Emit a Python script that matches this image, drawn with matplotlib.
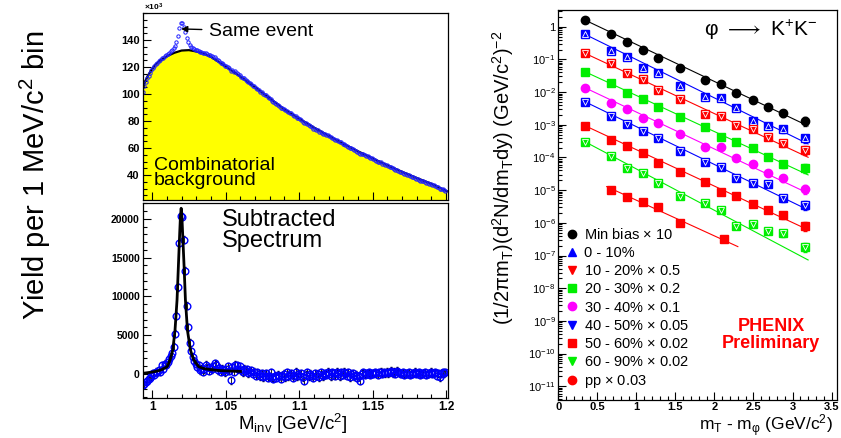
import numpy as np
import matplotlib
matplotlib.use("Agg")
import matplotlib.pyplot as plt
from matplotlib.ticker import MultipleLocator, LogLocator, NullFormatter
from matplotlib.lines import Line2D
from matplotlib import font_manager

plt.rcParams['font.family'] = ['Liberation Sans', 'DejaVu Sans']
plt.rcParams['mathtext.default'] = 'regular'

# ---- left panels: K+K- invariant mass, 1 MeV bins ----
minv = np.round(0.9935 + 0.001 * np.arange(207), 4)  # bin centres

# same event yield (x10^3)
same_k = [
    101.6, 105.7, 109.1, 111.5, 113.7, 115.6, 117.5,
    119.4, 120.7, 122.1, 123.0, 124.3, 125.2, 126.7, 127.0, 128.3, 128.9,
    129.8, 130.7, 131.6, 132.5, 133.8, 135.9, 138.5, 142.6, 148.6, 152.4,
    152.5, 149.6, 145.7, 141.2, 138.5, 136.4, 135.1, 134.2, 133.5, 132.9,
    132.3, 132.2, 131.3, 131.2, 130.5, 130.4, 130.5, 129.7, 128.7, 128.6,
    127.8, 127.5, 127.2, 126.3, 124.9, 124.5, 123.3, 123.0, 122.1, 121.1,
    120.7, 120.3, 119.0, 117.0, 117.9, 116.6, 116.7, 115.8, 114.5, 114.2,
    112.9, 111.8, 111.6, 110.5, 109.9, 108.6, 108.0, 107.5, 106.2, 105.7,
    104.4, 104.0, 102.9, 101.8, 101.4, 100.1, 99.5, 98.9, 97.5, 96.9,
    96.6, 95.1, 94.1, 93.7, 92.6, 92.1, 91.1, 90.0, 89.5, 88.9,
    87.8, 87.7, 86.5, 86.1, 85.6, 84.3, 84.0, 83.8, 82.5, 82.1,
    81.2, 80.8, 79.6, 78.3, 78.4, 78.0, 76.8, 76.3, 75.4, 74.4,
    74.3, 73.5, 73.1, 72.2, 72.2, 71.4, 70.6, 70.5, 69.7, 69.6,
    68.7, 67.8, 67.7, 67.0, 66.1, 66.0, 65.1, 64.2, 64.1, 63.2,
    63.0, 62.2, 61.3, 61.1, 59.9, 59.7, 59.2, 58.2, 57.8, 56.8,
    56.5, 55.4, 55.8, 55.5, 54.7, 54.4, 53.8, 53.5, 52.7, 52.4,
    51.7, 51.4, 50.7, 50.0, 49.7, 49.3, 48.4, 48.1, 47.4, 47.1,
    46.4, 46.0, 45.7, 44.9, 44.6, 43.9, 43.8, 43.1, 42.5, 41.9,
    41.7, 40.9, 40.6, 40.1, 39.8, 39.0, 38.6, 38.3, 38.0, 37.2,
    36.9, 36.6, 35.9, 35.6, 35.3, 35.0, 34.3, 34.0, 33.7, 33.5,
    32.7, 32.3, 31.9, 31.0, 30.8, 29.8, 29.7, 29.4, 28.8, 28.4,
]

# combinatorial background (x10^3)
bkg_x = [0.9935, 0.995, 0.997, 0.999, 1.002, 1.005, 1.010, 1.015, 1.020, 1.025,
         1.030, 1.035, 1.040, 1.050, 1.060, 1.070, 1.080, 1.090, 1.100, 1.110,
         1.120, 1.130, 1.140, 1.150, 1.160, 1.170, 1.180, 1.190, 1.2005]
bkg_k = [103, 109, 113.5, 117, 121.5, 124.5, 128, 130.5, 132.2, 132.5,
         131.5, 130, 127.5, 120.5, 112.9, 105.1, 96.8, 88.6, 81.8, 75.2,
         69.1, 63.2, 57.6, 52.3, 47.2, 42.4, 37.8, 33.5, 28.0]

# background subtracted spectrum
sub_counts = [
    -1400, -1300, -1000, -900, -700, -500, -300,
    100, -100, 300, 200, 500, 300, 1100, 700, 1300, 1200,
    1500, 1900, 2300, 2700, 3500, 5200, 7500, 11200, 16900, 20400,
    20300, 17300, 13300, 8800, 6000, 4000, 2900, 2200, 1700, 1300,
    900, 1100, 500, 700, 300, 600, 1200, 900, 400, 800,
    600, 1000, 1400, 1200, 500, 800, 300, 700, 500, 200,
    600, 1000, 400, -800, 900, 300, 1200, 1100, 600, 1000,
    500, 200, 700, 400, 600, 100, 300, 500, 0, 300,
    -200, 200, 0, -300, 100, -400, -200, 100, -500, -300,
    200, -400, -600, -200, -500, -100, -300, -600, -200, 0,
    -400, 200, -300, -100, 100, -500, -200, 300, -300, 0,
    -200, 100, -400, -900, -100, 200, -300, 0, -200, -500,
    100, -200, 0, -400, 200, -100, -300, 100, -100, 300,
    0, -300, 200, 100, -200, 300, 0, -300, 200, -100,
    300, 100, -200, 200, -400, 0, 100, -300, -100, -500,
    -300, -900, 0, 200, -100, 100, 0, 200, -100, 100,
    0, 200, 100, -100, 200, 300, 0, 200, 100, 300,
    100, 200, 400, 100, 300, 0, 400, 200, 100, 0,
    200, -100, 100, 0, 200, -100, 0, 100, 300, 0,
    100, 200, -100, 0, 100, 200, -100, 0, 100, 300,
    0, 100, 200, -200, 100, -400, 0, 200, 100, 200,
]
SUB_ERR = 450

# fitted peak
fit_x = [0.995, 1.000, 1.004, 1.007, 1.0102, 1.012, 1.014, 1.0155, 1.0169, 1.0178,
         1.0187, 1.0192, 1.0197, 1.0202, 1.0207, 1.0217, 1.0226, 1.024, 1.026, 1.028,
         1.0316, 1.035, 1.040, 1.045, 1.050, 1.060]
fit_y = [120, 250, 400, 600, 940, 1700, 3100, 5600, 9550, 13850,
         18150, 20300, 21380, 20300, 18150, 13850, 9550, 5600, 3100, 1900,
         940, 700, 550, 450, 400, 330]

# ---- right panel: phi mT spectra ----
mt = [0.34, 0.68, 0.88, 1.08, 1.28, 1.56, 1.88, 2.09, 2.28, 2.49, 2.68, 2.88, 3.16]
rel_err = [0.05, 0.05, 0.05, 0.05, 0.05, 0.07, 0.09, 0.11, 0.14, 0.17, 0.2, 0.24, 0.3]

minbias = [1.60, 0.585, 0.333, 0.194, 0.113, 0.0557, 0.0234, 0.0177, 0.00918,
           0.00573, 0.00343, 0.00225, 0.00133]
c0010 = [0.586, 0.185, 0.121, 0.0535, 0.0376, 0.0154, 0.00724, 0.00675, 0.0032,
         0.00133, 9.2e-4, 7.3e-4, 3.86e-4]
c1020 = [0.154, 0.0793, 0.0392, 0.0252, 0.0116, 0.00615, 0.00209, 0.0019, 9.9e-4,
         7.4e-4, 4.15e-4, 2.72e-4, 1.69e-4]
c2030 = [0.0421, 0.0186, 0.0096, 0.00603, 0.00343, 0.00177, 8.75e-4, 4.33e-4, 2.92e-4,
         1.91e-4, 1.06e-4, 6.3e-5, 4.9e-5]
c3040 = [0.0136, 0.00454, 0.00298, 0.00165, 0.00111, 5.2e-4, 2.14e-4, 2.14e-4, 9.9e-5,
         6.2e-5, 3.3e-5, 2.4e-5, 1.09e-5]
c4050 = [0.00508, 0.0019, 0.00106, 6.6e-4, 3.86e-4, 1.61e-4, 7.1e-5, 5.2e-5, 2.31e-5,
         1.69e-5, 1.51e-5, 5.6e-6, 3.5e-6]
c5060 = [9.4e-4, 3.43e-4, 2.3e-4, 1.34e-4, 6.7e-5, 3.5e-5, 1.82e-5, 9.0e-6, 6.8e-6,
         3.8e-6, 2.5e-6, 1.75e-6, 8.2e-7]
c6090 = [3.04e-4, 1.11e-4, 4.9e-5, 3.4e-5, 1.63e-5, 6.7e-6, 4.0e-6, 2.5e-6, 8.0e-7,
         9.1e-7, 5.6e-7, 5.0e-7, 1.87e-7]
mt_pp = [0.68, 0.88, 1.08, 1.28, 1.56, 2.12]
pp = [1.01e-5, 6.3e-6, 4.45e-6, 3.0e-6, 9.7e-7, 3.15e-7]

# exponential fit lines: (x start, x end), (y start, y end)
fit_range = [0.34, 3.2]
fit_range_pp = [0.62, 2.30]
fits = [[1.60, 9.2e-4], [0.586, 2.59e-4], [0.154, 1.01e-4], [0.0421, 2.92e-5],
        [0.0136, 8.0e-6], [0.00508, 2.48e-6], [9.4e-4, 6.1e-7], [3.04e-4, 7.3e-8]]
fit_pp = [1.28e-5, 1.87e-7]

labels = ["Min bias $\\times$ 10", "0 - 10%", "10 - 20% $\\times$ 0.5", "20 - 30% $\\times$ 0.2",
          "30 - 40% $\\times$ 0.1", "40 - 50% $\\times$ 0.05", "50 - 60% $\\times$ 0.02",
          "60 - 90% $\\times$ 0.02", "pp $\\times$ 0.03"]
colors = ["black", "#0000ff", "#ff0000", "#00ee00", "#ff00ff", "#0000ff", "#ff0000", "#00ee00", "#ff0000"]
leg_markers = ["o", "^", "v", "s", "o", "v", "s", "v", "o"]
plot_markers = ["o", "s", "s", "s", "o", "s", "s", "s", "s"]

# ---------------- figure ----------------
W, H = 841, 438
fig = plt.figure(figsize=(W / 100, H / 100), dpi=100)


def px_axes(l, t, r, b):
    return [l / W, 1 - b / H, (r - l) / W, (b - t) / H]


ax_top = fig.add_axes(px_axes(142.5, 13, 447.5, 200))
ax_bot = fig.add_axes(px_axes(142.5, 203, 447.5, 398))
ax_r = fig.add_axes(px_axes(558.3, 10, 837, 400))

for ax in (ax_top, ax_bot, ax_r):
    for s in ax.spines.values():
        s.set_linewidth(0.9)
    ax.tick_params(which='both', direction='in', top=False, right=False, width=0.8, pad=2)
    ax.tick_params(which='major', length=6)
    ax.tick_params(which='minor', length=3)

xt = [1, 1.05, 1.1, 1.15, 1.2]
xt_lab = ["1", "1.05", "1.1", "1.15", "1.2"]

# top: same event + background
ax_top.fill_between(bkg_x, bkg_k, 0, color='#ffff00', lw=0)
ax_top.plot(bkg_x, bkg_k, color='black', lw=1.6)
ax_top.plot(minv, same_k, 'o', mfc='none', mec='#2020ff', ms=2.4, mew=0.7)
ax_top.set_xlim(0.9934, 1.2009)
ax_top.set_ylim(21.5, 160)
ax_top.set_xticks(xt, labels=[])
ax_top.xaxis.set_minor_locator(MultipleLocator(0.01))
ax_top.set_yticks([40, 60, 80, 100, 120, 140], labels=["40", "60", "80", "100", "120", "140"],
                  fontsize=8, fontweight='bold')
ax_top.yaxis.set_minor_locator(MultipleLocator(5))
ax_top.annotate("Same event", xy=(1.0197, 148.2), xytext=(1.0385, 146.5), va='center', ha='left',
                fontsize=14, arrowprops=dict(arrowstyle='-|>', color='black', lw=1.0,
                                             shrinkA=3, shrinkB=0, mutation_scale=9))
ax_top.text(1.0011, 32.6, "Combinatorial\nbackground", fontsize=14, va='baseline',
            ha='left', linespacing=0.85)
fig.text(144 / W, 1 - 7 / H, "$\\times$10$^{3}$", fontsize=6, fontweight='bold', va='center')

# bottom: subtracted spectrum
ax_bot.errorbar(minv, sub_counts, yerr=SUB_ERR, fmt='o', mfc='none', mec='#0000ff', ms=4.8,
                mew=1.0, ecolor='black', elinewidth=0.6, capsize=1.0, zorder=2)
ax_bot.plot(fit_x, fit_y, color='black', lw=2.0, zorder=3)
ax_bot.set_xlim(0.9934, 1.2009)
ax_bot.set_ylim(-3100, 22060)
ax_bot.set_xticks(xt, labels=xt_lab, fontsize=8.5, fontweight='bold')
ax_bot.xaxis.set_minor_locator(MultipleLocator(0.01))
ax_bot.set_yticks([0, 5000, 10000, 15000, 20000],
                  labels=["0", "5000", "10000", "15000", "20000"], fontsize=7.5, fontweight='bold')
ax_bot.yaxis.set_minor_locator(MultipleLocator(1000))
ax_bot.text(1.0475, 16426, "Subtracted\nSpectrum", fontsize=17, va='baseline', ha='left',
            linespacing=0.92)

fig.text(293 / W, 1 - 430 / H, "M$_{inv}$ [GeV/c$^{2}$]", fontsize=13.5, ha='center', va='baseline')

names = {f.name for f in font_manager.fontManager.ttflist}
if 'Liberation Sans Narrow' in names:
    ylab_font, ylab_size = ['Liberation Sans Narrow', 'DejaVu Sans'], 23
else:
    ylab_font, ylab_size = ['Liberation Sans', 'DejaVu Sans'], 21
fig.text(35 / W, 1 - 175 / H, "Yield per 1 MeV/c$^{2}$ bin", rotation=90, ha='center', va='center',
         fontsize=ylab_size, family=ylab_font)

# right: mT spectra
series = [minbias, c0010, c1020, c2030, c3040, c4050, c5060, c6090]
for i, ys in enumerate(series):
    c = colors[i]
    ax_r.plot(fit_range, fits[i], color=c, lw=0.8, zorder=1)
    ax_r.errorbar(mt, ys, yerr=np.array(ys) * np.array(rel_err), fmt='none', ecolor=c,
                  elinewidth=0.7, capsize=1.5, zorder=2)
    ax_r.plot(mt, ys, ls='none', marker=plot_markers[i], ms=6, mfc=c, mec=c, zorder=3)
    if leg_markers[i] in ('^', 'v') and i > 0:
        ax_r.plot(mt, ys, ls='none', marker=leg_markers[i], ms=4, mfc=c, mec='white',
                  mew=0.6, zorder=4)
c = colors[8]
ax_r.plot(fit_range_pp, fit_pp, color=c, lw=0.8, zorder=1)
ax_r.errorbar(mt_pp, pp, yerr=np.array(pp) * np.array(rel_err[1:7]), fmt='none', ecolor=c,
              elinewidth=0.7, capsize=1.5, zorder=2)
ax_r.plot(mt_pp, pp, ls='none', marker=plot_markers[8], ms=6, mfc=c, mec=c, zorder=3)

ax_r.set_yscale('log')
ax_r.set_xlim(0, 3.57)
ax_r.set_ylim(10 ** -11.42, 10 ** 0.51)
ax_r.set_xticks([0, 0.5, 1, 1.5, 2, 2.5, 3, 3.5],
                labels=["0", "0.5", "1", "1.5", "2", "2.5", "3", "3.5"], fontsize=8,
                fontweight='bold')
ax_r.tick_params(axis='x', pad=1.5)
ax_r.xaxis.set_minor_locator(MultipleLocator(0.1))
dec = list(range(-11, 1))
ax_r.set_yticks([10.0 ** d for d in dec],
                labels=["1" if d == 0 else "10$^{%d}$" % d for d in dec], fontsize=8)
ax_r.yaxis.set_minor_locator(LogLocator(base=10, subs=np.arange(2, 10), numticks=200))
ax_r.yaxis.set_minor_formatter(NullFormatter())

handles = [Line2D([], [], ls='none', marker=m, color=c, ms=6) for m, c in zip(leg_markers, colors)]
ax_r.legend(handles, labels, loc='upper left', bbox_to_anchor=(0.03, 0.443), frameon=False,
            fontsize=10.5, handlelength=0.8, handletextpad=0.4, labelspacing=0.28, borderpad=0,
            borderaxespad=0)
ax_r.text(0.764, 0.167, "PHENIX\nPreliminary", transform=ax_r.transAxes, color='#ff0000',
          fontsize=13, fontweight='bold', ha='center', va='center', linespacing=1.0)
ax_r.text(0.727, 0.949, "φ $\\longrightarrow$ K$^{+}$K$^{-}$", transform=ax_r.transAxes,
          fontsize=15, ha='center', va='center')

fig.text(503 / W, 1 - 178 / H, "(1/2πm$_{T}$)(d$^{2}$N/dm$_{T}$dy) (GeV/c$^{2}$)$^{-2}$",
         rotation=90, ha='center', va='center', fontsize=14.5)
fig.text(833 / W, 1 - 430.5 / H, "m$_{T}$ - m$_{φ}$ (GeV/c$^{2}$)", fontsize=12.5, ha='right',
         va='baseline')

fig.savefig("out.png", dpi=100)
